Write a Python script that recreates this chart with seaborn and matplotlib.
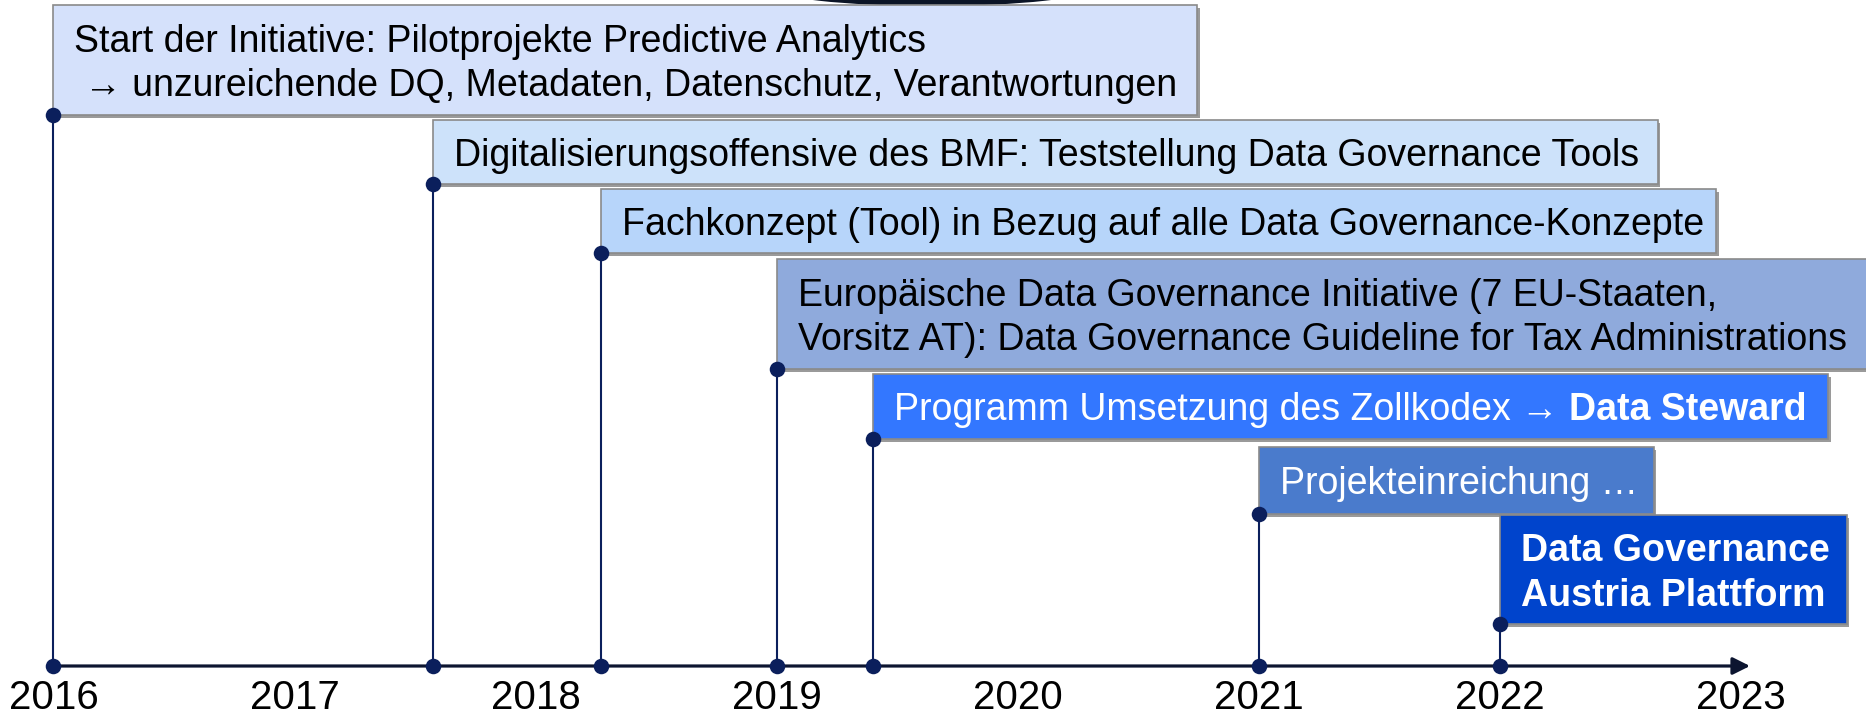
import matplotlib
matplotlib.use("Agg")
import matplotlib.pyplot as plt
import seaborn as sns
import pandas as pd
from matplotlib.patches import Rectangle, Ellipse

# ---------------- data ----------------
years = [2016, 2017, 2018, 2019, 2020, 2021, 2022, 2023]
event_dates = [2016.0, 2017.575, 2018.27, 2019.0, 2019.4, 2021.0, 2022.0]
event_levels = [115, 184, 253, 369, 439, 514, 624]  # stem top, px from top
event_labels = [
    "Start der Initiative: Pilotprojekte Predictive Analytics\n \u2192 unzureichende DQ, Metadaten, Datenschutz, Verantwortungen",
    "Digitalisierungsoffensive des BMF: Teststellung Data Governance Tools",
    "Fachkonzept (Tool) in Bezug auf alle Data Governance-Konzepte",
    "Europ\u00e4ische Data Governance Initiative (7 EU-Staaten,\nVorsitz AT): Data Governance Guideline for Tax Administrations",
    "Programm Umsetzung des Zollkodex \u2192 ",
    "Projekteinreichung \u2026",
    "Data Governance\nAustria Plattform",
]
bold_suffix = ["", "", "", "", "Data Steward", "", ""]

# ---------------- style / layout ----------------
box_fill = ["#D5E1FB", "#CDE2FA", "#B7D5FA", "#8FAADC", "#3377FF", "#4A7BCC", "#0044CC"]
text_colors = ["black", "black", "black", "black", "white", "white", "white"]
text_weights = ["normal"] * 6 + ["bold"]
box_right_px = [1197, 1658, 1716, 1900, 1828, 1654, 1847]
box_height_px = [110, 64, 64, 110, 65, 67, 109]
NAVY = "#0B1F5C"
AXIS_COL = "#0C1530"
W, H = 1866, 714
X0, PXY = 53.5, 241.07  # pixel of 2016, pixels per year
AXIS_Y = 666
LABEL_Y = 698
FS = 27


def px2yr(px):
    return 2016 + (px - X0) / PXY


sns.set_theme(style="white")
plt.rcParams["font.family"] = ["Liberation Sans", "DejaVu Sans"]

fig = plt.figure(figsize=(W / 100, H / 100), dpi=100)
ax = fig.add_axes([0, 0, 1, 1])
ax.set_xlim(px2yr(0), px2yr(W))
ax.set_ylim(H, 0)
ax.axis("off")

# partially hidden dark ellipse at top
ax.add_patch(Ellipse((px2yr(932), -12), 320 / PXY, 36, facecolor="#0B1426",
                     edgecolor="none", zorder=0.5))

# stems
ax.vlines(event_dates, event_levels, AXIS_Y, color=NAVY, lw=1.5, zorder=2)

# time axis with arrow
ax.annotate("", xy=(px2yr(1750), AXIS_Y), xytext=(2016, AXIS_Y),
            arrowprops=dict(arrowstyle="-|>", color=AXIS_COL, lw=2.3,
                            mutation_scale=26, shrinkA=0, shrinkB=0),
            zorder=3)

# dots
dots = pd.DataFrame({
    "x": event_dates + event_dates,
    "y": event_levels + [AXIS_Y] * len(event_dates),
})
sns.scatterplot(data=dots, x="x", y="y", s=125, color=NAVY, linewidth=0,
                zorder=5, legend=False, ax=ax)

# boxes and texts
for i, (d, lvl, lab) in enumerate(zip(event_dates, event_levels, event_labels)):
    right = px2yr(box_right_px[i])
    top = lvl - box_height_px[i]
    bw = right - d
    bh = box_height_px[i]
    # shadow
    ax.add_patch(Rectangle((d + 2.5 / PXY, top + 2.5), bw, bh, facecolor="#9A9A9A",
                           edgecolor="none", zorder=3 + i * 0.01))
    ax.add_patch(Rectangle((d, top), bw, bh, facecolor=box_fill[i],
                           edgecolor="#8A8A8A", lw=1.2, zorder=3.1 + i * 0.01))
    t = ax.text(d + 21 / PXY, top + bh / 2 + 4, lab, ha="left", va="center",
                fontsize=FS, color=text_colors[i], fontweight=text_weights[i],
                linespacing=1.3, zorder=4)
    if bold_suffix[i]:
        ax.annotate(bold_suffix[i], xy=(1, 0), xycoords=t, ha="left", va="bottom",
                    fontsize=FS, color=text_colors[i], fontweight="bold", zorder=4)

# year labels
for y in years:
    ax.text(y, LABEL_Y, str(y), ha="center", va="center", fontsize=29,
            color="black", zorder=4)

fig.savefig("out.png", dpi=100)
